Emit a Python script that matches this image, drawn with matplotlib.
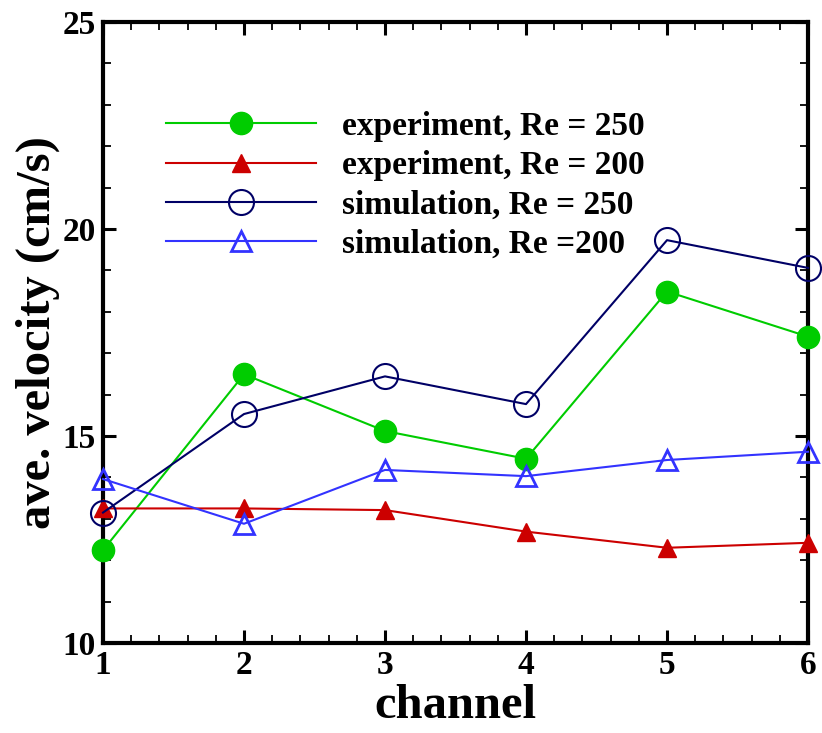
import matplotlib
matplotlib.use("Agg")
import matplotlib.pyplot as plt
from matplotlib.ticker import MultipleLocator

channels = [1, 2, 3, 4, 5, 6]
exp_re250 = [12.24, 16.49, 15.12, 14.45, 18.49, 17.40]
exp_re200 = [13.25, 13.25, 13.21, 12.69, 12.30, 12.42]
sim_re250 = [13.15, 15.53, 16.44, 15.77, 19.73, 19.06]
sim_re200 = [13.96, 12.88, 14.18, 14.03, 14.42, 14.62]

labels = ["experiment, Re = 250", "experiment, Re = 200",
          "simulation, Re = 250", "simulation, Re =200"]

plt.rcParams['font.family'] = ['Liberation Serif', 'DejaVu Serif']
plt.rcParams['font.weight'] = 'bold'

fig = plt.figure(figsize=(8.22, 7.33), dpi=100)
ax = fig.add_axes([0.1253, 0.1228, 0.983 - 0.1253, 0.970 - 0.1228])

lw = 1.5
ax.plot(channels, exp_re250, color='#00cc00', lw=lw, marker='o', ms=16,
        mfc='#00cc00', mec='#00cc00', clip_on=False, zorder=5, label=labels[0])
ax.plot(channels, exp_re200, color='#cc0000', lw=lw, marker='^', ms=13,
        mfc='#cc0000', mec='#cc0000', clip_on=False, zorder=5, label=labels[1])
ax.plot(channels, sim_re250, color='#000066', lw=lw, marker='o', ms=18,
        mfc='none', mec='#000066', mew=1.5, clip_on=False, zorder=5, label=labels[2])
ax.plot(channels, sim_re200, color='#3333ff', lw=lw, marker='^', ms=14,
        mfc='none', mec='#3333ff', mew=2, clip_on=False, zorder=5, label=labels[3])

ax.set_xlim(1, 6)
ax.set_ylim(10, 25)
ax.xaxis.set_major_locator(MultipleLocator(1))
ax.xaxis.set_minor_locator(MultipleLocator(0.2))
ax.yaxis.set_major_locator(MultipleLocator(5))
ax.yaxis.set_minor_locator(MultipleLocator(1))

for s in ax.spines.values():
    s.set_linewidth(3)
ax.tick_params(which='both', direction='in', top=True, right=True)
ax.tick_params(which='major', length=9.5, width=2.2, labelsize=24, pad=5)
ax.tick_params(which='minor', length=6, width=1.3)
for t in ax.get_xticklabels() + ax.get_yticklabels():
    t.set_fontweight('bold')

ax.set_xlabel('channel', fontsize=35, fontweight='bold', labelpad=2)
ax.set_ylabel('ave. velocity (cm/s)', fontsize=35, fontweight='bold', labelpad=2)

leg = ax.legend(loc='upper left', bbox_to_anchor=(0.070, 0.878), frameon=False,
                fontsize=24, handlelength=4.5, handletextpad=0.8,
                labelspacing=0.25, borderaxespad=0)
for t in leg.get_texts():
    t.set_fontweight('bold')

fig.savefig('out.png', dpi=100)
